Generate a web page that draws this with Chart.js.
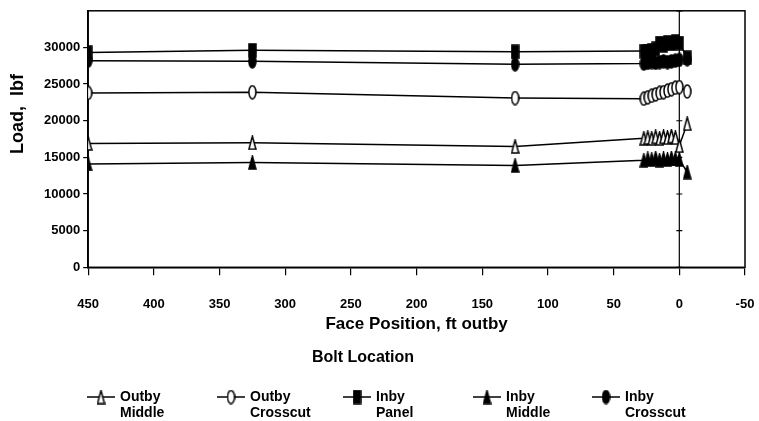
<!DOCTYPE html>
<html>
<head>
<meta charset="utf-8">
<script src="https://cdn.jsdelivr.net/npm/chart.js@4/dist/chart.umd.min.js"></script>
<style>
  html, body { margin: 0; padding: 0; background: #fff; }
  #wrap { width: 759px; height: 421px; }
</style>
</head>
<body>
<div id="wrap"><canvas id="loadChart" width="759" height="421"></canvas></div>
<script>
'use strict';
// face position (ft outby) for every reading
const faceFt = [450, 325, 125, 27, 24, 21, 18, 15, 12, 9, 6, 3, 0, -6];

// bolt loads, lbf
const outbyMiddle   = [16900, 17000, 16500, 17600, 17700, 17600, 17800, 17600, 17800, 17700, 17900, 17700, 16600, 19600];
const outbyCrosscut = [23800, 23900, 23100, 23000, 23200, 23400, 23600, 23800, 23900, 24100, 24300, 24500, 24600, 24000];
const inbyPanel     = [29300, 29600, 29400, 29500, 29500, 29600, 29800, 30600, 30300, 30700, 30500, 30800, 30600, 28600];
const inbyMiddle    = [14100, 14300, 13900, 14600, 14800, 14700, 14900, 14600, 14800, 14700, 14900, 14800, 14700, 13000];
const inbyCrosscut  = [28200, 28100, 27700, 27800, 27900, 28000, 27900, 28000, 28100, 28000, 28100, 28200, 28300, 28400];

const seriesNames = ['Outby Middle', 'Outby Crosscut', 'Inby Panel', 'Inby Middle', 'Inby Crosscut'];
const seriesValues = [outbyMiddle, outbyCrosscut, inbyPanel, inbyMiddle, inbyCrosscut];

// tall narrow markers like the scanned original
function makeMarker(kind, filled) {
    const c = document.createElement('canvas');
    const w = 9, h = 15;
    c.width = w; c.height = h;
    const g = c.getContext('2d');
    g.beginPath();
    if (kind === 'triangle') {
        g.moveTo(w / 2, 1);
        g.lineTo(w - 1, h - 1);
        g.lineTo(1, h - 1);
        g.closePath();
    } else if (kind === 'circle') {
        g.ellipse(w / 2, h / 2, w / 2 - 1, h / 2 - 1, 0, 0, Math.PI * 2);
    } else {
        g.rect(1, 1, w - 2, h - 2);
    }
    g.fillStyle = filled ? '#000' : '#fff';
    g.fill();
    g.lineWidth = 1.5;
    g.strokeStyle = '#000';
    g.stroke();
    return c;
}

const markers = [
    makeMarker('triangle', false),
    makeMarker('circle', false),
    makeMarker('square', true),
    makeMarker('triangle', true),
    makeMarker('circle', true)
];

const datasets = seriesNames.map((name, i) => ({
    label: name,
    data: faceFt.map((ft, j) => ({ x: ft, y: seriesValues[i][j] })),
    borderColor: '#000',
    borderWidth: 1.5,
    pointStyle: markers[i],
    showLine: true,
    tension: 0
}));

// frame, zero line with its little crosses, y title and the legend
const decorations = {
    id: 'decorations',
    beforeDatasetsDraw(chart) {
        const { ctx, chartArea: a, scales } = chart;
        ctx.save();
        ctx.strokeStyle = '#000';
        ctx.lineWidth = 1.5;
        ctx.strokeRect(a.left, a.top, a.right - a.left, a.bottom - a.top);
        const x0 = scales.x.getPixelForValue(0);
        ctx.lineWidth = 1.2;
        ctx.beginPath();
        ctx.moveTo(x0, a.top);
        ctx.lineTo(x0, a.bottom);
        scales.y.ticks.forEach(t => {
            const y = scales.y.getPixelForValue(t.value);
            ctx.moveTo(x0 - 3, y);
            ctx.lineTo(x0 + 3, y);
        });
        ctx.stroke();
        ctx.restore();
    },
    afterDraw(chart) {
        const { ctx } = chart;
        ctx.save();
        ctx.fillStyle = '#000';
        ctx.textBaseline = 'middle';

        ctx.save();
        ctx.translate(18, 114);
        ctx.rotate(-Math.PI / 2);
        ctx.textAlign = 'center';
        ctx.font = 'bold 18px "Liberation Sans", Arial, sans-serif';
        ctx.fillText('Load,  lbf', 0, 0);
        ctx.restore();

        ctx.textAlign = 'center';
        ctx.font = 'bold 16px "Liberation Sans", Arial, sans-serif';
        ctx.fillText('Bolt Location', 363, 358);

        ctx.textAlign = 'left';
        ctx.font = 'bold 14px "Liberation Sans", Arial, sans-serif';
        const starts = [87, 217, 343, 473, 592];
        seriesNames.forEach((name, i) => {
            const sx = starts[i];
            ctx.strokeStyle = '#000';
            ctx.lineWidth = 1.5;
            ctx.beginPath();
            ctx.moveTo(sx, 397);
            ctx.lineTo(sx + 28, 397);
            ctx.stroke();
            const m = markers[i];
            ctx.drawImage(m, sx + 14 - m.width / 2, 397 - m.height / 2);
            const words = name.split(' ');
            ctx.fillText(words[0], sx + 33, 397);
            ctx.fillText(words[1], sx + 33, 413);
        });
        ctx.restore();
    }
};

new Chart(document.getElementById('loadChart'), {
    type: 'line',
    data: { datasets: datasets },
    plugins: [decorations],
    options: {
        responsive: false,
        animation: false,
        layout: { padding: { left: 41, right: 14, top: 10, bottom: 86 } },
        plugins: {
            legend: { display: false },
            tooltip: { enabled: false }
        },
        scales: {
            x: {
                type: 'linear',
                reverse: true,
                min: -50,
                max: 450,
                ticks: {
                    stepSize: 50,
                    color: '#000',
                    padding: 2,
                    maxRotation: 0,
                    // tall line box pushes the labels down without widening the side padding
                    font: { family: '"Liberation Sans", Arial, sans-serif', size: 13, weight: 'bold', lineHeight: 4.1 }
                },
                grid: { drawOnChartArea: false, tickLength: 8, color: '#000', lineWidth: 1.2 },
                border: { display: true, color: '#000', width: 1.5 },
                title: {
                    display: true,
                    text: 'Face Position, ft outby',
                    color: '#000',
                    padding: { top: -18, bottom: 0 },
                    font: { family: '"Liberation Sans", Arial, sans-serif', size: 17, weight: 'bold' }
                }
            },
            y: {
                min: 0,
                max: 35000,
                ticks: {
                    stepSize: 5000,
                    color: '#000',
                    padding: 3,
                    font: { family: '"Liberation Sans", Arial, sans-serif', size: 13, weight: 'bold' },
                    callback: v => (v === 35000 ? '' : v)
                },
                grid: {
                    drawOnChartArea: false,
                    tickLength: 5,
                    lineWidth: 1.2,
                    tickColor: c => (c.tick && c.tick.value === 35000 ? 'rgba(0,0,0,0)' : '#000')
                },
                border: { display: true, color: '#000', width: 1.5 }
            }
        }
    }
});
</script>
</body>
</html>
